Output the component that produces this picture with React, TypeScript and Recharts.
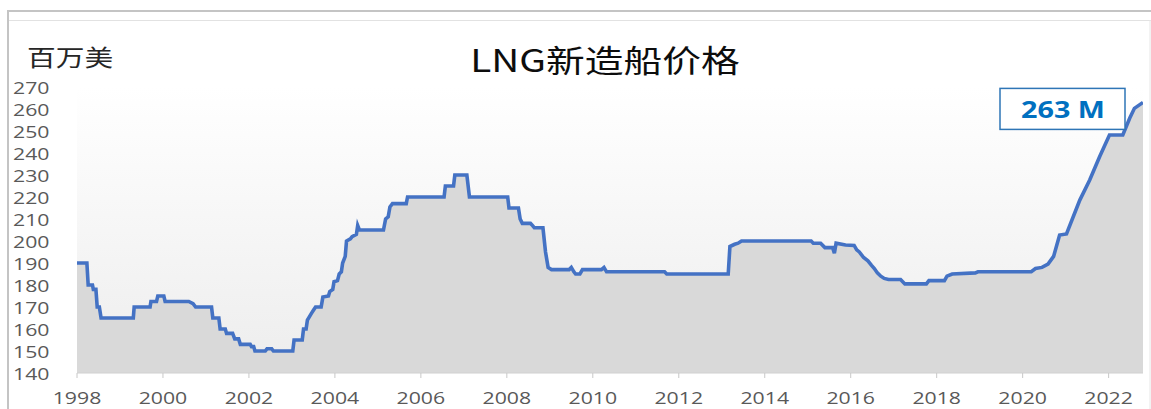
import React from "react";
import {
  ComposedChart,
  Area,
  XAxis,
  YAxis,
  CartesianGrid,
  ReferenceDot,
} from "recharts";

// decimal year of each vertex of the price line
const years: number[] = [
  1998.0, 1998.23, 1998.26, 1998.36, 1998.38, 1998.44, 1998.47, 1998.52, 1998.56,
  1999.31, 1999.33, 1999.7, 1999.72, 1999.85, 1999.88, 2000.02, 2000.05, 2000.6,
  2000.7, 2000.76, 2001.13, 2001.16, 2001.3, 2001.33, 2001.45, 2001.48, 2001.62,
  2001.67, 2001.76, 2001.8, 2002.03, 2002.06, 2002.11, 2002.14, 2002.38, 2002.42,
  2002.53, 2002.57, 2003.02, 2003.05, 2003.24, 2003.27, 2003.33, 2003.36, 2003.45,
  2003.5, 2003.55, 2003.68, 2003.72, 2003.85, 2003.88, 2003.95, 2003.98, 2004.06,
  2004.1, 2004.15, 2004.18, 2004.24, 2004.27, 2004.36, 2004.4, 2004.5, 2004.53,
  2004.57, 2005.13, 2005.18, 2005.24, 2005.28, 2005.34, 2005.66, 2005.69, 2006.54,
  2006.57, 2006.76, 2006.79, 2007.07, 2007.13, 2008.02, 2008.05, 2008.27, 2008.31,
  2008.36, 2008.55, 2008.6, 2008.64, 2008.84, 2008.9, 2008.96, 2009.04, 2009.45,
  2009.5, 2009.56, 2009.6, 2009.7, 2009.76, 2010.2, 2010.26, 2010.32, 2011.67,
  2011.72, 2013.15, 2013.19, 2013.3, 2013.38, 2013.46, 2015.08, 2015.13, 2015.3,
  2015.4, 2015.58, 2015.62, 2015.66, 2015.88, 2016.08, 2016.14, 2016.2, 2016.3,
  2016.4, 2016.48, 2016.55, 2016.62, 2016.7, 2016.78, 2016.88, 2017.16, 2017.26,
  2017.76, 2017.82, 2018.18, 2018.24, 2018.36, 2018.9, 2018.96, 2020.2, 2020.3,
  2020.45, 2020.59, 2020.72, 2020.86, 2021.02, 2021.33, 2021.56, 2021.79, 2022.02,
  2022.33, 2022.49, 2022.6, 2022.8,
];

// price, million USD
const prices: number[] = [
  190, 190, 180, 180, 178, 178, 170, 170, 165,
  165, 170, 170, 172.5, 172.5, 175, 175, 172.5, 172.5,
  171.5, 170, 170, 165, 165, 160, 160, 158, 158,
  155.5, 155.5, 153, 153, 152, 152, 150, 150, 151,
  151, 150, 150, 155, 155, 160, 160, 164, 167,
  168.5, 170, 170, 174.5, 175, 177, 178, 181.5, 182,
  185, 186, 190, 193, 200, 201, 202, 203, 207,
  205, 205, 210, 211, 215.5, 217, 217, 220, 220,
  225, 225, 230, 230, 220, 220, 215, 215, 210,
  208, 208, 207, 206, 206, 195, 188, 187, 187,
  188, 186, 185, 185, 187, 187, 188, 186, 186,
  185, 185, 197.5, 198.5, 199, 200, 200, 199, 199,
  197, 197, 194.5, 199, 198.2, 198, 196, 195, 192.5,
  191, 189, 187.5, 185.5, 184, 183, 182.5, 182.5, 180.5,
  180.5, 182, 182, 184, 185, 185.5, 186, 186, 187.5,
  188, 189.5, 193, 202.7, 203.2, 218.6, 227.7, 238.3, 248.2,
  248.2, 255.8, 260.3, 263,
];

const xTicks: number[] = [1998, 2000, 2002, 2004, 2006, 2008, 2010, 2012, 2014, 2016, 2018, 2020, 2022];
const yTicks: number[] = [140, 150, 160, 170, 180, 190, 200, 210, 220, 230, 240, 250, 260, 270];

const title = "LNG新造船价格";
const unit = "百万美";
const lastLabel = "263 M";

const data = years.map((t, i) => ({ t, v: prices[i] }));
const last = data[data.length - 1];

const FONT = "'Open Sans', 'Noto Sans', sans-serif";
const CJK = "'Noto Sans CJK SC', 'Noto Sans', sans-serif";
const SX = 1.25;

const YTick = (p: any) => (
  <text
    transform={`translate(13 ${p.y + 6.5}) scale(${SX} 1)`}
    x={0}
    y={0}
    textAnchor="start"
    fontSize={17}
    fontFamily={FONT}
    fill="#595959"
  >
    {p.payload.value}
  </text>
);

const XTick = (p: any) => (
  <text
    transform={`translate(${p.x} 404) scale(${SX} 1)`}
    x={0}
    y={0}
    textAnchor="middle"
    fontSize={17}
    fontFamily={FONT}
    fill="#595959"
  >
    {p.payload.value}
  </text>
);

const LabelBox = (p: any) => {
  const cx = p.cx;
  const cy = p.cy;
  return (
    <g>
      <rect x={cx - 143} y={cy - 14} width={125} height={41} fill="#ffffff" stroke="#2e75b6" strokeWidth={1.5} />
      <text
        transform={`translate(${cx - 80} ${cy + 15.5}) scale(${SX} 1)`}
        x={0}
        y={0}
        textAnchor="middle"
        fontSize={23}
        fontWeight={700}
        fontFamily={FONT}
        fill="#0070c0"
      >
        {lastLabel}
      </text>
    </g>
  );
};

export default function App() {
  return (
    <div style={{ position: "absolute", left: 0, top: 0, width: 1151, height: 409, background: "#ffffff" }}>
      <svg width={1151} height={409} style={{ position: "absolute", left: 0, top: 0 }}>
        <line x1={8} y1={11} x2={1151} y2={11} stroke="#c4c4c4" strokeWidth={2} />
        <line x1={8} y1={20.5} x2={1151} y2={20.5} stroke="#e2e2e2" strokeWidth={1} />
        <line x1={8} y1={10} x2={8} y2={409} stroke="#c4c4c4" strokeWidth={2} />
        <line x1={1150} y1={20} x2={1150} y2={409} stroke="#e6e6e6" strokeWidth={1} />
        <text
          transform={`translate(605 72) scale(${SX} 1)`}
          x={0}
          y={0}
          textAnchor="middle"
          fontSize={31}
          fontFamily={CJK}
          fill="#0d0d0d"
        >
          {title}
        </text>
        <text
          transform={`translate(27 66) scale(${SX} 1)`}
          x={0}
          y={0}
          textAnchor="start"
          fontSize={23}
          fontFamily={CJK}
          fill="#262626"
        >
          {unit}
        </text>
      </svg>
      <div style={{ position: "absolute", left: 0, top: 0 }}>
        <ComposedChart width={1151} height={409} data={data} margin={{ top: 87, right: 8, bottom: 0, left: 0 }}>
          <defs>
            <linearGradient id="bgGrad" x1="0" y1="0" x2="0" y2="1">
              <stop offset="0%" stopColor="#ffffff" />
              <stop offset="100%" stopColor="#ededed" />
            </linearGradient>
          </defs>
          <CartesianGrid horizontal={false} vertical={false} fill="url(#bgGrad)" />
          <XAxis
            dataKey="t"
            type="number"
            domain={[1998, 2022.8]}
            ticks={xTicks}
            allowDataOverflow
            height={36}
            tickSize={5}
            stroke="#d0d0d0"
            tickLine={{ stroke: "#c8c8c8" }}
            tick={<XTick />}
            interval={0}
          />
          <YAxis
            type="number"
            domain={[140, 270]}
            ticks={yTicks}
            allowDataOverflow
            width={77}
            axisLine={false}
            tickLine={false}
            tick={<YTick />}
            interval={0}
          />
          <Area
            type="linear"
            dataKey="v"
            stroke="#4472c4"
            strokeWidth={3.6}
            fill="#d9d9d9"
            fillOpacity={1}
            baseValue={140}
            isAnimationActive={false}
            dot={false}
            activeDot={false}
          />
          <ReferenceDot x={last.t} y={last.v} r={0} shape={<LabelBox />} ifOverflow="visible" />
        </ComposedChart>
      </div>
    </div>
  );
}
